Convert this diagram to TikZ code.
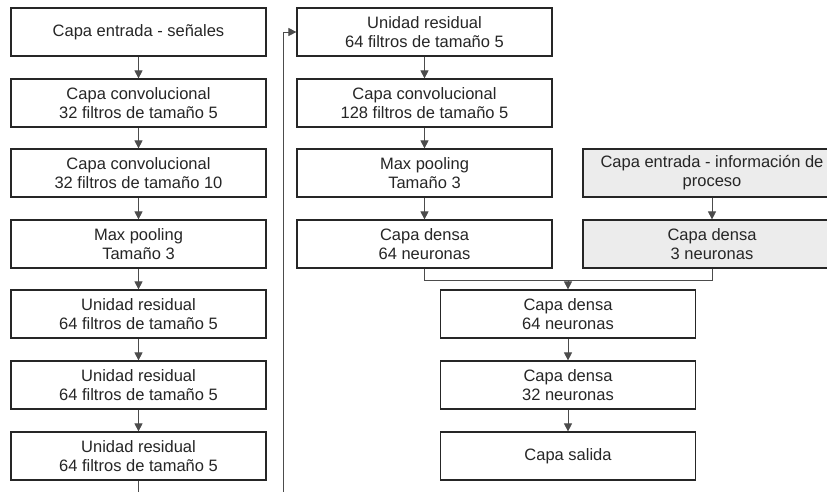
\documentclass[tikz,border=0pt]{standalone}
\usepackage{fontspec}
\setmainfont{Liberation Sans}
\usetikzlibrary{arrows.meta}
\begin{document}
\begin{tikzpicture}[x=1pt,y=-1pt,
 box/.style={draw=black!85,line width=1.2pt,minimum width=255pt,minimum height=48pt,inner sep=0pt,align=center,font=\fontsize{16.5}{19}\selectfont,text=black!85},
 graybox/.style={box,fill=gray!15,minimum width=258pt},
 conn/.style={draw=black!70,line width=0.8pt},
 arr/.style={conn,-{Triangle[length=8pt,width=8pt]}}]
\useasboundingbox (0,0) rectangle (827,491);
\fill[white] (0,0) rectangle (827,491);
\clip (0,0) rectangle (827,491);
% left column
\node[box] (l1) at (138.5,32) {Capa entrada - señales};
\node[box] (l2) at (138.5,103) {Capa convolucional\\32 filtros de tamaño 5};
\node[box] (l3) at (138.5,173) {Capa convolucional\\32 filtros de tamaño 10};
\node[box] (l4) at (138.5,244) {Max pooling\\Tamaño 3};
\node[box] (l5) at (138.5,314) {Unidad residual\\64 filtros de tamaño 5};
\node[box] (l6) at (138.5,385) {Unidad residual\\64 filtros de tamaño 5};
\node[box] (l7) at (138.5,456) {Unidad residual\\64 filtros de tamaño 5};
% middle column
\node[box] (m1) at (424.5,32) {Unidad residual\\64 filtros de tamaño 5};
\node[box] (m2) at (424.5,103) {Capa convolucional\\128 filtros de tamaño 5};
\node[box] (m3) at (424.5,173) {Max pooling\\Tamaño 3};
\node[box] (m4) at (424.5,244) {Capa densa\\64 neuronas};
% right column
\node[graybox] (r1) at (712,173) {Capa entrada - información de\\proceso};
\node[graybox] (r2) at (712,244) {Capa densa\\3 neuronas};
% bottom column
\node[box] (b1) at (568,314) {Capa densa\\64 neuronas};
\node[box] (b2) at (568,385) {Capa densa\\32 neuronas};
\node[box] (b3) at (568,456) {Capa salida};
% connectors
\draw[arr] (l1) -- (l2);
\draw[arr] (l2) -- (l3);
\draw[arr] (l3) -- (l4);
\draw[arr] (l4) -- (l5);
\draw[arr] (l5) -- (l6);
\draw[arr] (l6) -- (l7);
\coordinate (lb) at (138.5,520);
\coordinate (lr) at (283,520);
\draw[arr] (l7.south) -- (lb) -- (lr) |- (m1.west);
\draw[arr] (m1) -- (m2);
\draw[arr] (m2) -- (m3);
\draw[arr] (m3) -- (m4);
\draw[arr] (r1) -- (r2);
\coordinate (j) at (568,280);
\draw[conn] (m4.south) |- (j);
\draw[conn] (r2.south) |- (j);
\draw[arr] (j) -- (b1);
\draw[arr] (b1) -- (b2);
\draw[arr] (b2) -- (b3);
\end{tikzpicture}
\end{document}
